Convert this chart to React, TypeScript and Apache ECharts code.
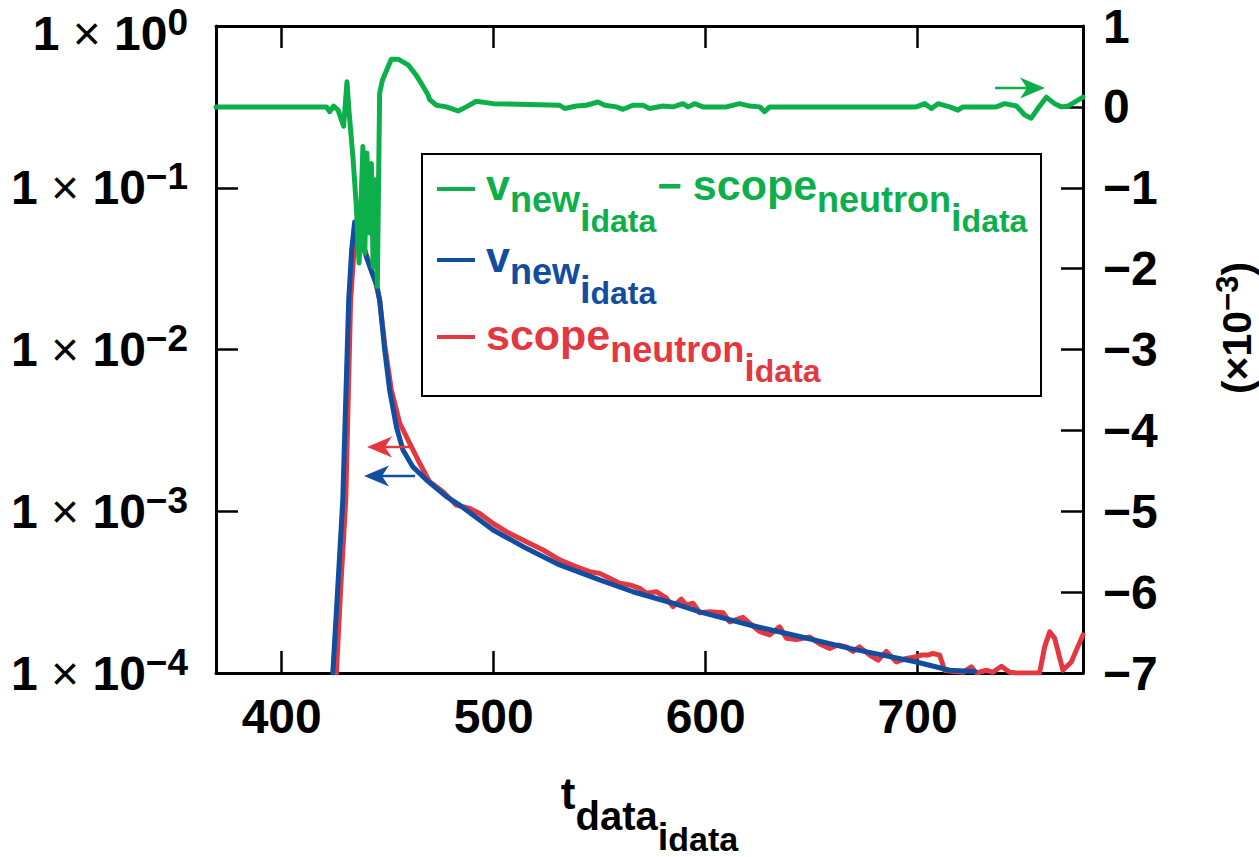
import React, { useEffect, useRef } from "react";
import * as echarts from "echarts";

const FONT = '"Liberation Sans", Arial, Helvetica, sans-serif';
const GREEN = "#0DAF4A";
const BLUE = "#124EA0";
const RED = "#E43840";

// x range and tick labels
const T_MIN = 369;
const T_MAX = 778;
const T_TICKS = [400, 500, 600, 700];

// right-axis range, in units of 1e-3
const DIFF_MIN = -7;
const DIFF_MAX = 1;

// scope_neutron (log scale)
const scopeNeutron: [number, number][] = [
  [425.8, 1.0e-4], [427.8, 3.3e-4], [430.2, 1.17e-3], [432.5, 2.02e-2], [434.9, 5.9e-2],
  [437.7, 4.75e-2], [441.5, 3.33e-2], [444.3, 2.61e-2], [446.2, 2.02e-2], [448.6, 1.07e-2],
  [451.7, 5.62e-3], [455.7, 3.5e-3], [460.4, 2.63e-3], [465.1, 1.98e-3], [469.8, 1.52e-3],
  [476.1, 1.32e-3], [482.4, 1.09e-3], [488.7, 1.04e-3], [493.4, 9.7e-4], [499.7, 8.4e-4],
  [506.0, 7.47e-4], [515.4, 6.48e-4], [523.3, 5.76e-4], [531.1, 5.0e-4], [539.0, 4.54e-4],
  [545.3, 4.23e-4], [550.0, 4.13e-4], [554.7, 3.85e-4], [559.4, 3.59e-4], [564.2, 3.5e-4],
  [568.9, 3.34e-4], [572.0, 3.11e-4], [576.7, 3.18e-4], [581.5, 2.9e-4], [584.6, 2.57e-4],
  [588.5, 2.86e-4], [590.9, 2.63e-4], [594.0, 2.7e-4], [597.2, 2.36e-4], [601.9, 2.39e-4],
  [608.2, 2.36e-4], [611.3, 2.07e-4], [617.6, 2.21e-4], [620.8, 2.03e-4], [625.5, 1.8e-4],
  [630.2, 1.72e-4], [634.9, 1.93e-4], [638.1, 1.64e-4], [642.8, 1.61e-4], [649.1, 1.67e-4],
  [653.8, 1.51e-4], [658.5, 1.42e-4], [662.4, 1.49e-4], [666.4, 1.45e-4], [669.5, 1.36e-4],
  [672.6, 1.45e-4], [677.4, 1.29e-4], [681.3, 1.2e-4], [685.2, 1.36e-4], [690.0, 1.17e-4],
  [694.7, 1.23e-4], [699.4, 1.26e-4], [701.7, 1.29e-4], [704.9, 1.29e-4], [707.2, 1.32e-4],
  [710.4, 1.29e-4], [712.7, 1.04e-4], [716.7, 1.02e-4], [721.4, 1.01e-4], [725.3, 1.09e-4],
  [727.7, 1.0e-4], [732.4, 1.04e-4], [735.5, 1.01e-4], [739.5, 1.1e-4], [743.4, 1.01e-4],
  [746.6, 1.0e-4], [757.5, 1.0e-4], [759.9, 1.45e-4], [762.3, 1.8e-4], [764.6, 1.64e-4],
  [768.5, 1.04e-4], [772.5, 1.17e-4], [774.9, 1.39e-4], [778.0, 1.72e-4],
];

// v_new (log scale)
const vNew: [number, number][] = [
  [424.1, 1.0e-4], [426.4, 3.3e-4], [428.8, 1.17e-3], [431.6, 2.02e-2], [433.0, 4.12e-2],
  [434.4, 6.14e-2], [435.8, 5.89e-2], [437.7, 4.75e-2], [440.1, 3.68e-2], [442.5, 3.01e-2],
  [444.8, 2.5e-2], [446.2, 2.02e-2], [448.6, 9.9e-3], [450.9, 5.62e-3], [454.1, 3.33e-3],
  [457.2, 2.39e-3], [461.9, 1.88e-3], [468.3, 1.56e-3], [477.7, 1.23e-3], [484.0, 1.09e-3],
  [499.7, 7.66e-4], [515.4, 5.9e-4], [531.1, 4.66e-4], [550.0, 3.76e-4], [565.7, 3.18e-4],
  [584.6, 2.7e-4], [597.2, 2.39e-4], [620.8, 1.98e-4], [644.3, 1.68e-4], [667.9, 1.42e-4],
  [699.4, 1.17e-4], [715.1, 1.04e-4], [726.9, 1.02e-4],
];

// v_new - scope_neutron, in units of 1e-3 (right axis)
const difference: [number, number][] = [
  [369.0, 0.0], [421.1, 0.0], [422.6, -0.06], [424.5, 0.01], [426.6, -0.04], [429.2, -0.24],
  [430.8, 0.31], [431.7, -0.04], [433.6, -0.62], [435.2, -1.23], [436.5, -1.93], [438.3, -0.49],
  [439.2, -1.81], [440.2, -0.57], [441.2, -1.56], [442.3, -0.7], [443.1, -1.98], [444.2, -0.9],
  [445.1, -2.22], [446.2, 0.17], [447.5, 0.33], [451.7, 0.59], [454.9, 0.59], [459.6, 0.52],
  [463.5, 0.39], [467.0, 0.24], [469.0, 0.15], [469.8, 0.09], [473.0, 0.02], [477.7, 0.0],
  [483.2, -0.05], [487.1, 0.0], [491.8, 0.07], [499.7, 0.04], [531.1, 0.02], [533.5, -0.02],
  [539.0, 0.01], [543.7, 0.02], [549.2, 0.06], [552.4, 0.02], [557.9, 0.0], [561.0, -0.03],
  [565.7, 0.02], [570.4, 0.02], [573.6, -0.02], [579.9, 0.01], [584.6, 0.0], [589.3, 0.04],
  [591.7, 0.0], [594.8, 0.04], [598.7, 0.0], [609.8, 0.0], [616.0, 0.04], [620.8, 0.01],
  [625.5, 0.0], [627.8, -0.06], [630.2, 0.0], [699.4, 0.0], [703.3, 0.04], [706.5, -0.02],
  [709.6, 0.04], [715.1, 0.0], [719.0, -0.04], [721.4, 0.0], [737.1, 0.0], [741.0, 0.04],
  [746.6, 0.01], [750.5, -0.1], [753.6, -0.14], [756.7, -0.02], [760.7, 0.12], [764.6, 0.04],
  [767.8, 0.0], [770.9, 0.01], [778.0, 0.12],
];

type Seg = { text: string; size: number; dy: number; gap?: number };

let measureCtx: CanvasRenderingContext2D | null = null;
function textWidth(text: string, size: number): number {
  if (!measureCtx) measureCtx = document.createElement("canvas").getContext("2d");
  if (!measureCtx) return text.length * size * 0.55;
  measureCtx.font = `bold ${size}px ${FONT}`;
  return measureCtx.measureText(text).width;
}

function segsWidth(segs: Seg[]): number {
  return segs.reduce((w, s) => w + (s.gap ?? 0) + textWidth(s.text, s.size), 0);
}

// Lays out a run of text pieces with their own sizes and baseline shifts
function textRun(segs: Seg[], x0: number, baseline: number, color: string): any[] {
  let x = x0;
  const out: any[] = [];
  for (const s of segs) {
    x += s.gap ?? 0;
    out.push({
      type: "text",
      x,
      y: baseline + s.dy - 0.35 * s.size,
      style: {
        text: s.text,
        font: `bold ${s.size}px ${FONT}`,
        fill: color,
        align: "left",
        verticalAlign: "middle",
        textAlign: "left",
        textVerticalAlign: "middle",
      },
    });
    x += textWidth(s.text, s.size);
  }
  return out;
}

function arrow(tailX: number, tipX: number, y: number, color: string): any[] {
  const dir = Math.sign(tipX - tailX);
  const L = 25;
  const W = 10.5;
  const notch = 7;
  return [
    {
      type: "line",
      shape: { x1: tailX, y1: y, x2: tipX - dir * (L - notch), y2: y },
      style: { stroke: color, lineWidth: 2.5 },
    },
    {
      type: "polygon",
      shape: {
        points: [
          [tipX, y],
          [tipX - dir * L, y - W],
          [tipX - dir * (L - notch), y],
          [tipX - dir * L, y + W],
        ],
      },
      style: { fill: color },
    },
  ];
}

const sub = (idxSize: number, dataSize: number): Seg[] => [
  { text: "i", size: idxSize, dy: 31 },
  { text: "data", size: dataSize, dy: 32 },
];

function buildGraphics(): any[] {
  const els: any[] = [];

  // legend frame and entries
  els.push({
    type: "rect",
    shape: { x: 422, y: 154, width: 619, height: 242 },
    style: { fill: "#fff", stroke: "#000", lineWidth: 2 },
  });
  const rows: { color: string; baseline: number; mark: number; segs: Seg[] }[] = [
    {
      color: GREEN,
      baseline: 200,
      mark: 189,
      segs: [
        { text: "v", size: 43, dy: 0 },
        { text: "new", size: 36, dy: 12 },
        ...sub(38, 32),
        { text: "\u2212", size: 42, dy: 0, gap: 1 },
        { text: "scope", size: 43, dy: 0, gap: 11 },
        { text: "neutron", size: 36, dy: 12 },
        ...sub(38, 32),
      ],
    },
    {
      color: BLUE,
      baseline: 272,
      mark: 260,
      segs: [{ text: "v", size: 43, dy: 0 }, { text: "new", size: 36, dy: 12 }, ...sub(38, 32)],
    },
    {
      color: RED,
      baseline: 350,
      mark: 337,
      segs: [{ text: "scope", size: 43, dy: 0 }, { text: "neutron", size: 36, dy: 12 }, ...sub(38, 32)],
    },
  ];
  for (const r of rows) {
    els.push({
      type: "line",
      shape: { x1: 437, y1: r.mark, x2: 475, y2: r.mark },
      style: { stroke: r.color, lineWidth: 4 },
    });
    els.push(...textRun(r.segs, 486, r.baseline, r.color));
  }

  // series direction arrows
  els.push(...arrow(995, 1045, 88, GREEN));
  els.push(...arrow(410, 367, 447, RED));
  els.push(...arrow(415, 364, 476, BLUE));

  // bottom axis title
  const xTitle: Seg[] = [
    { text: "t", size: 44, dy: 0 },
    { text: "data", size: 40, dy: 21 },
    { text: "i", size: 38, dy: 41 },
    { text: "data", size: 34, dy: 42 },
  ];
  const xw = segsWidth(xTitle);
  els.push(...textRun(xTitle, 649.5 - xw / 2, 809, "#000"));

  // right axis title, rotated
  const yTitle: Seg[] = [
    { text: "(\u00d710", size: 41, dy: 0 },
    { text: "\u22123", size: 31, dy: -13 },
    { text: ")", size: 41, dy: 0 },
  ];
  const yw = segsWidth(yTitle);
  els.push({
    type: "group",
    x: 1237,
    y: 328,
    rotation: Math.PI / 2,
    children: textRun(yTitle, -yw / 2, 0.35 * 41, "#000"),
  });

  return els.map((e) => ({ ...e, z: 100 }));
}

const axisLine = { show: true, onZero: false, lineStyle: { color: "#000", width: 3 } };
const tickStyle = { color: "#000", width: 2.5 };
const labelBase = { color: "#000", fontSize: 48, fontWeight: "bold" as const, fontFamily: FONT };

function powerLabel(v: number): string {
  const e = Math.round(Math.log10(v));
  const exp = e < 0 ? "\u2212" + -e : String(e);
  const k = e === 0 ? "t" : "";
  return `{m${k}|1 }{x${k}|\u00d7}{m${k}| 10}{s${k}|${exp}}`;
}

function buildOption(): any {
  const lineSeries = (name: string, data: [number, number][], color: string, yAxisIndex: number) => ({
    type: "line",
    name,
    data,
    xAxisIndex: 0,
    yAxisIndex,
    showSymbol: false,
    symbol: "none",
    clip: true,
    lineStyle: { color, width: 5, join: "round", cap: "round" },
    itemStyle: { color },
    emphasis: { disabled: true },
  });

  // superscript raised by half of its bottom padding; the top label is shifted down a little
  const main = { ...labelBase, lineHeight: 48 };
  const cross = { ...labelBase, fontWeight: "normal" as const, lineHeight: 48 };
  const sup = { ...labelBase, fontSize: 37, lineHeight: 37 };

  return {
    animation: false,
    backgroundColor: "#fff",
    grid: { left: 216, right: 176, top: 26, bottom: 184, containLabel: false, outerBoundsMode: "none" },
    xAxis: [
      {
        type: "value",
        position: "bottom",
        min: T_MIN,
        max: T_MAX,
        axisLine,
        axisTick: { show: true, inside: true, length: 22, lineStyle: tickStyle, customValues: T_TICKS },
        axisLabel: { ...labelBase, margin: 19, customValues: T_TICKS },
        splitLine: { show: false },
      },
      {
        type: "value",
        position: "top",
        min: T_MIN,
        max: T_MAX,
        axisLine,
        axisTick: { show: true, inside: true, length: 22, lineStyle: tickStyle, customValues: T_TICKS },
        axisLabel: { show: false },
        splitLine: { show: false },
      },
    ],
    yAxis: [
      {
        type: "log",
        logBase: 10,
        position: "left",
        min: 1e-4,
        max: 1,
        splitNumber: 4,
        axisLine,
        axisTick: { show: true, inside: true, length: 22, lineStyle: tickStyle },
        minorTick: { show: false },
        axisLabel: {
          margin: 28,
          showMinLabel: true,
          showMaxLabel: true,
          formatter: powerLabel,
          rich: {
            m: main,
            x: cross,
            s: { ...sup, padding: [0, 0, 22, 0] },
            mt: { ...main, padding: [14, 0, 0, 0] },
            xt: { ...cross, padding: [14, 0, 0, 0] },
            st: { ...sup, padding: [14, 0, 22, 0] },
          },
        },
        splitLine: { show: false },
      },
      {
        type: "value",
        position: "right",
        min: DIFF_MIN,
        max: DIFF_MAX,
        interval: 1,
        axisLine,
        axisTick: { show: true, inside: true, length: 22, lineStyle: tickStyle },
        axisLabel: {
          ...labelBase,
          margin: 20,
          showMinLabel: true,
          showMaxLabel: true,
          formatter: (v: number) => (v < 0 ? "\u2212" + Math.abs(v) : String(v)),
        },
        splitLine: { show: false },
      },
    ],
    series: [
      lineSeries("scope", scopeNeutron, RED, 0),
      lineSeries("vnew", vNew, BLUE, 0),
      lineSeries("diff", difference, GREEN, 1),
    ],
    graphic: { elements: buildGraphics() },
  };
}

export default function App() {
  const ref = useRef<HTMLDivElement>(null);
  useEffect(() => {
    if (!ref.current) return;
    const chart = echarts.init(ref.current, null, { renderer: "svg" });
    chart.setOption(buildOption());
    return () => chart.dispose();
  }, []);
  return (
    <div
      ref={ref}
      style={{ position: "fixed", left: 0, top: 0, width: 1259, height: 857, background: "#fff" }}
    />
  );
}
